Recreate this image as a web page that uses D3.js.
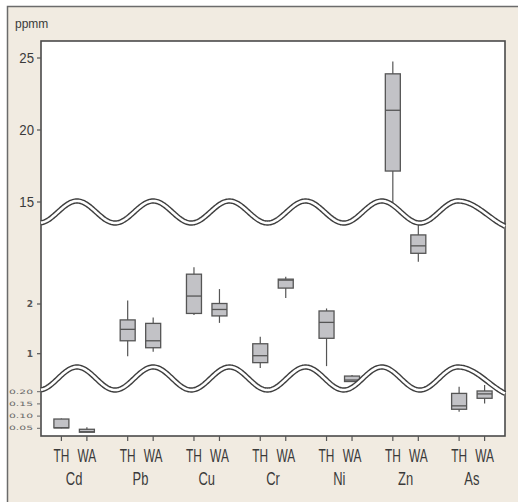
<!DOCTYPE html>
<html>
<head>
<meta charset="utf-8">
<script src="https://cdn.jsdelivr.net/npm/d3@7"></script>
<style>
  body { margin: 0; background: #fff; }
  svg { display: block; }
  .lab { font-family: "Liberation Sans", Arial, sans-serif; fill: #3a3a3a; }
</style>
</head>
<body>
<div id="chart"></div>
<script>
const width = 518;
const height = 502;

// categories
const elements = ["Cd", "Pb", "Cu", "Cr", "Ni", "Zn", "As"];
const sites = ["TH", "WA"];

// one entry per element/site pair, in order Cd-TH, Cd-WA, Pb-TH, ...
// segment: which part of the broken axis the box is read against
const boxSegment = ["low", "low", "mid", "mid", "mid", "mid", "mid", "mid", "mid", "mid", "top", "mid", "low", "low"];
const boxMin = [0.050, 0.034, 0.95, 1.04, 1.78, 1.62, 0.71, 2.12, 0.75, 0.44, 14.9, 2.85, 0.118, 0.152];
const boxQ1 = [0.052, 0.034, 1.26, 1.12, 1.81, 1.76, 0.82, 2.32, 1.31, 0.44, 17.15, 3.02, 0.128, 0.173];
const boxMed = [0.052, 0.036, 1.49, 1.26, 2.16, 1.89, 0.96, 2.48, 1.63, 0.47, 21.37, 3.17, 0.142, 0.191];
const boxQ3 = [0.088, 0.046, 1.68, 1.61, 2.60, 2.01, 1.20, 2.50, 1.86, 0.55, 23.9, 3.39, 0.193, 0.203];
const boxMax = [0.090, 0.054, 2.07, 1.73, 2.74, 2.30, 1.34, 2.55, 1.91, 0.57, 24.75, 3.59, 0.220, 0.227];

// tick labels for each axis segment
const topTicks = [15, 20, 25];
const midTicks = [1, 2];
const lowTicks = [0.05, 0.10, 0.15, 0.20];

const plot = { left: 41, right: 505, top: 41, bottom: 436 };

const y = {
    top: d3.scaleLinear().domain([15, 25]).range([202, 58]),
    mid: d3.scaleLinear().domain([1, 2]).range([353.7, 304]),
    low: d3.scaleLinear().domain([0.05, 0.20]).range([428.3, 391.7])
};

const x = d3.scaleBand().domain(elements).range([plot.left, plot.right]).padding(0);
const xSite = d3.scalePoint().domain(sites).range([0, x.bandwidth()]).padding(0.8);

const boxes = [];
elements.forEach((el, i) => {
    sites.forEach((s, j) => {
        const k = i * 2 + j;
        boxes.push({
            element: el, site: s, seg: boxSegment[k],
            min: boxMin[k], q1: boxQ1[k], med: boxMed[k], q3: boxQ3[k], max: boxMax[k]
        });
    });
});

const svg = d3.select("#chart")
    .append("svg")
    .attr("width", width)
    .attr("height", height);

// beige panel with frame
svg.append("rect")
    .attr("x", 7.5).attr("y", 6.5)
    .attr("width", 540).attr("height", 540)
    .attr("fill", "#f1ebe1")
    .attr("stroke", "#6b6b6b")
    .attr("stroke-width", 1.5);

svg.append("text")
    .attr("class", "lab")
    .attr("x", 15).attr("y", 28)
    .style("font-size", "12px")
    .text("ppmm");

// plot area
svg.append("rect")
    .attr("x", plot.left).attr("y", plot.top)
    .attr("width", plot.right - plot.left)
    .attr("height", plot.bottom - plot.top)
    .attr("fill", "#fff")
    .attr("stroke", "#4a4a4a")
    .attr("stroke-width", 1.6);

// y axis ticks and labels, per segment
const yg = svg.append("g");
yg.selectAll(".tt").data(topTicks).enter().append("line")
    .attr("x1", plot.left - 4).attr("x2", plot.left)
    .attr("y1", d => y.top(d)).attr("y2", d => y.top(d))
    .attr("stroke", "#555").attr("stroke-width", 1.2);
yg.selectAll(".tl").data(topTicks).enter().append("text")
    .attr("class", "lab")
    .attr("transform", d => `translate(${plot.left - 7},${y.top(d)}) scale(0.88,1)`)
    .attr("dy", "0.36em")
    .attr("text-anchor", "end")
    .style("font-size", "15px")
    .text(d => d);

yg.selectAll(".mt").data(midTicks).enter().append("line")
    .attr("x1", plot.left - 4).attr("x2", plot.left)
    .attr("y1", d => y.mid(d)).attr("y2", d => y.mid(d))
    .attr("stroke", "#555").attr("stroke-width", 1.2);
yg.selectAll(".ml").data(midTicks).enter().append("text")
    .attr("x", plot.left - 8).attr("y", d => y.mid(d))
    .attr("dy", "0.35em")
    .attr("text-anchor", "end")
    .style("font-family", "'DejaVu Sans', sans-serif")
    .style("font-size", "9px")
    .style("font-weight", "bold")
    .style("fill", "#555")
    .text(d => d);

yg.selectAll(".lt").data(lowTicks).enter().append("line")
    .attr("x1", plot.left - 4).attr("x2", plot.left)
    .attr("y1", d => y.low(d)).attr("y2", d => y.low(d))
    .attr("stroke", "#666").attr("stroke-width", 1);
yg.selectAll(".ll").data(lowTicks).enter().append("text")
    .attr("x", 9).attr("y", d => y.low(d))
    .attr("dy", "0.35em")
    .attr("textLength", 24)
    .attr("lengthAdjust", "spacingAndGlyphs")
    .style("font-family", "'DejaVu Sans', sans-serif")
    .style("font-size", "6px")
    .style("fill", "#666")
    .text(d => d3.format(".2f")(d));

// x axis ticks and labels
const xg = svg.append("g");
xg.selectAll("line").data(boxes).enter().append("line")
    .attr("x1", d => x(d.element) + xSite(d.site))
    .attr("x2", d => x(d.element) + xSite(d.site))
    .attr("y1", plot.bottom).attr("y2", plot.bottom + 5)
    .attr("stroke", "#555").attr("stroke-width", 1.2);
xg.selectAll(".site").data(boxes).enter().append("text")
    .attr("class", "lab")
    .attr("transform", d => `translate(${x(d.element) + xSite(d.site)},461.5) scale(0.68,1)`)
    .attr("text-anchor", "middle")
    .style("font-size", "17.5px")
    .text(d => d.site);
xg.selectAll(".el").data(elements).enter().append("text")
    .attr("class", "lab")
    .attr("transform", d => `translate(${x(d) + x.bandwidth() / 2},485) scale(0.7,1)`)
    .attr("text-anchor", "middle")
    .style("font-size", "18.5px")
    .text(d => d);

// boxes
const boxW = 15;
const bg = svg.append("g").selectAll("g").data(boxes).enter().append("g")
    .attr("transform", d => `translate(${x(d.element) + xSite(d.site)},0)`);

bg.append("line")
    .attr("x1", 0).attr("x2", 0)
    .attr("y1", d => y[d.seg](d.max))
    .attr("y2", d => y[d.seg](d.min))
    .attr("stroke", "#555").attr("stroke-width", 1.2);

bg.append("rect")
    .attr("x", -boxW / 2)
    .attr("y", d => y[d.seg](d.q3))
    .attr("width", boxW)
    .attr("height", d => Math.max(y[d.seg](d.q1) - y[d.seg](d.q3), 1))
    .attr("fill", "#c2c2c6")
    .attr("stroke", "#555")
    .attr("stroke-width", 1.3);

bg.append("line")
    .attr("x1", -boxW / 2).attr("x2", boxW / 2)
    .attr("y1", d => y[d.seg](d.med))
    .attr("y2", d => y[d.seg](d.med))
    .attr("stroke", "#555").attr("stroke-width", 1.3);

// axis breaks: wavy double lines
function wave(cy, amp) {
    const pts = [];
    const period = 76.2, firstPeak = 77, lastPeak = 458;
    for (let px = plot.left; px <= plot.right; px += 1) {
        let py;
        if (px <= lastPeak) {
            py = cy - amp * Math.cos(2 * Math.PI * (px - firstPeak) / period);
        } else {
            py = cy - amp + 1.29 * amp * (1 - Math.cos(Math.PI * (px - lastPeak) / 60));
        }
        pts.push([px, py]);
    }
    return d3.line()(pts);
}

const breaks = [[212, 11], [378.5, 11.5]];
const wg = svg.append("g");
breaks.forEach(([cy, amp]) => {
    wg.append("path").attr("d", wave(cy, amp))
        .attr("fill", "none").attr("stroke", "#3e3e3e").attr("stroke-width", 5.4);
    wg.append("path").attr("d", wave(cy, amp))
        .attr("fill", "none").attr("stroke", "#fff").attr("stroke-width", 2.6);
});
</script>
</body>
</html>
